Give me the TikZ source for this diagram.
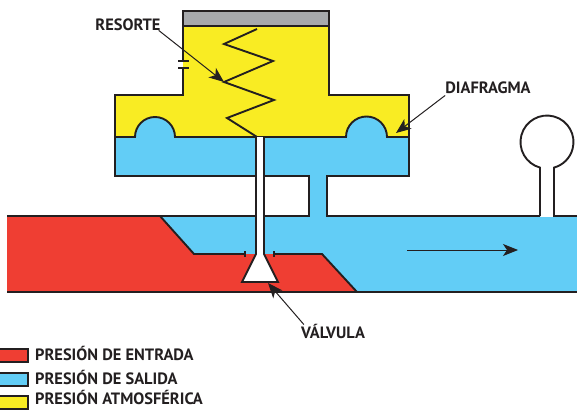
\documentclass[tikz,border=0pt]{standalone}
\usepackage{fontspec}
\setmainfont{PT Sans}
\usetikzlibrary{arrows.meta}
\definecolor{rojo}{HTML}{EF3E33}
\definecolor{azul}{HTML}{62CDF6}
\definecolor{amarillo}{HTML}{F9EC23}
\definecolor{gris}{HTML}{A7A9AC}
\definecolor{negro}{HTML}{231F20}
\begin{document}
\begin{tikzpicture}
    [x=1pt, y=-1pt,
    linea/.style={draw=negro, line width=1.9pt, line join=miter},
    etiqueta/.style={font=\bfseries\fontsize{16.4}{18}\selectfont, text=negro, inner sep=0pt, anchor=base},
    leyenda/.style={etiqueta, anchor=base west},
    caja/.style={draw=negro, line width=1.6pt, minimum width=29pt, minimum height=13pt, inner sep=0pt},
    flecha/.style={draw=negro, line width=1pt, -{Stealth[length=15pt, width=12pt, inset=4pt]}}]
    \useasboundingbox (0,0) rectangle (577,409);

    % fills
    \fill[amarillo] (183,26) -- (329,26) -- (329,95) -- (409,95) -- (409,138) -- (115,138) -- (115,95) -- (183,95) -- cycle;
    \fill[azul] (115,137) -- (135,137) arc[start angle=180, end angle=360, radius=20] -- (346,137) arc[start angle=180, end angle=360, radius=20.5] -- (409,137) -- (409,176) -- (327,176) -- (327,216) -- (577,216) -- (577,292) -- (357,292) -- (322,254) -- (194,254) -- (160,216) -- (309,216) -- (309,176) -- (115,176) -- cycle;
    \fill[rojo] (7,216) -- (160,216) -- (194,254) -- (322,254) -- (357,292) -- (7,292) -- cycle;
    \fill[gris] (183,11) rectangle (329,26);

    % housing
    \draw[linea] (183,61) -- (183,11) -- (329,11) -- (329,26) -- (183,26);
    \draw[linea] (183,68) -- (183,95) -- (115,95) -- (115,176) -- (256,176);
    \draw[linea] (178,61) -- (189,61);
    \draw[linea] (178,68) -- (189,68);
    \draw[linea] (329,26) -- (329,95) -- (409,95) -- (409,176) -- (327,176) -- (327,216) -- (540,216);
    \draw[linea] (115,137) -- (135,137) arc[start angle=180, end angle=360, radius=20] -- (346,137) arc[start angle=180, end angle=360, radius=20.5] -- (409,137);

    % spring
    \draw[linea] (257,137) -- (227,118) -- (274,100) -- (224,82) -- (273,61) -- (224,44) -- (257,29);

    % pipe
    \draw[linea] (7,216) -- (309,216) -- (309,176) -- (264,176);
    \draw[linea] (7,292) -- (577,292);
    \draw[linea] (160,216) -- (194,254) -- (245,254);
    \draw[linea] (274,254) -- (322,254) -- (357,292);
    \draw[linea] (245,251) -- (245,257);
    \draw[linea] (274,251) -- (274,257);

    % valve and stem
    \fill[white] (256,137) -- (264,137) -- (264,254) -- (278,282) -- (242,282) -- (256,254) -- cycle;
    \draw[linea] (256,137) -- (256,254) -- (242,282) -- (278,282) -- (264,254) -- (264,137);

    % gauge
    \fill[white] (540,168) rectangle (554,217);
    \draw[linea] (540,216) -- (540,167.6) arc[start angle=105.3, end angle=434.7, radius=26.5] -- (554,216) -- (577,216);

    % labels
    \node[etiqueta] (resorte) at (128,31) {RESORTE};
    \node[etiqueta] (diafragma) at (488,93) {DIAFRAGMA};
    \node[etiqueta] (valvula) at (333,338) {VÁLVULA};
    \coordinate (puntaResorte) at (224,82);
    \coordinate (puntaDiafragma) at (396,133);
    \coordinate (puntaValvula) at (268,283);
    \coordinate (flujoA) at (407,250);
    \coordinate (flujoB) at (518,250);
    \draw[flecha] (resorte.south east) ++(-2,-1) -- (puntaResorte);
    \draw[flecha] (diafragma.south west) ++(0,2) -- (puntaDiafragma);
    \draw[flecha] (valvula.north west) ++(3,1) -- (puntaValvula);
    \draw[flecha] (flujoA) -- (flujoB);

    % legend
    \node[caja, fill=rojo] (cajaEntrada) at (13.5,355.5) {};
    \node[caja, fill=azul] (cajaSalida) at (13.5,379.5) {};
    \node[caja, fill=amarillo] (cajaAtmos) at (13.5,402.5) {};
    \node[leyenda] (txtEntrada) at (35,360) {PRESIÓN DE ENTRADA};
    \node[leyenda] (txtSalida) at (35,384) {PRESIÓN DE SALIDA};
    \node[leyenda] (txtAtmos) at (35,404.3) {PRESIÓN ATMOSFÉRICA};
\end{tikzpicture}
\end{document}
